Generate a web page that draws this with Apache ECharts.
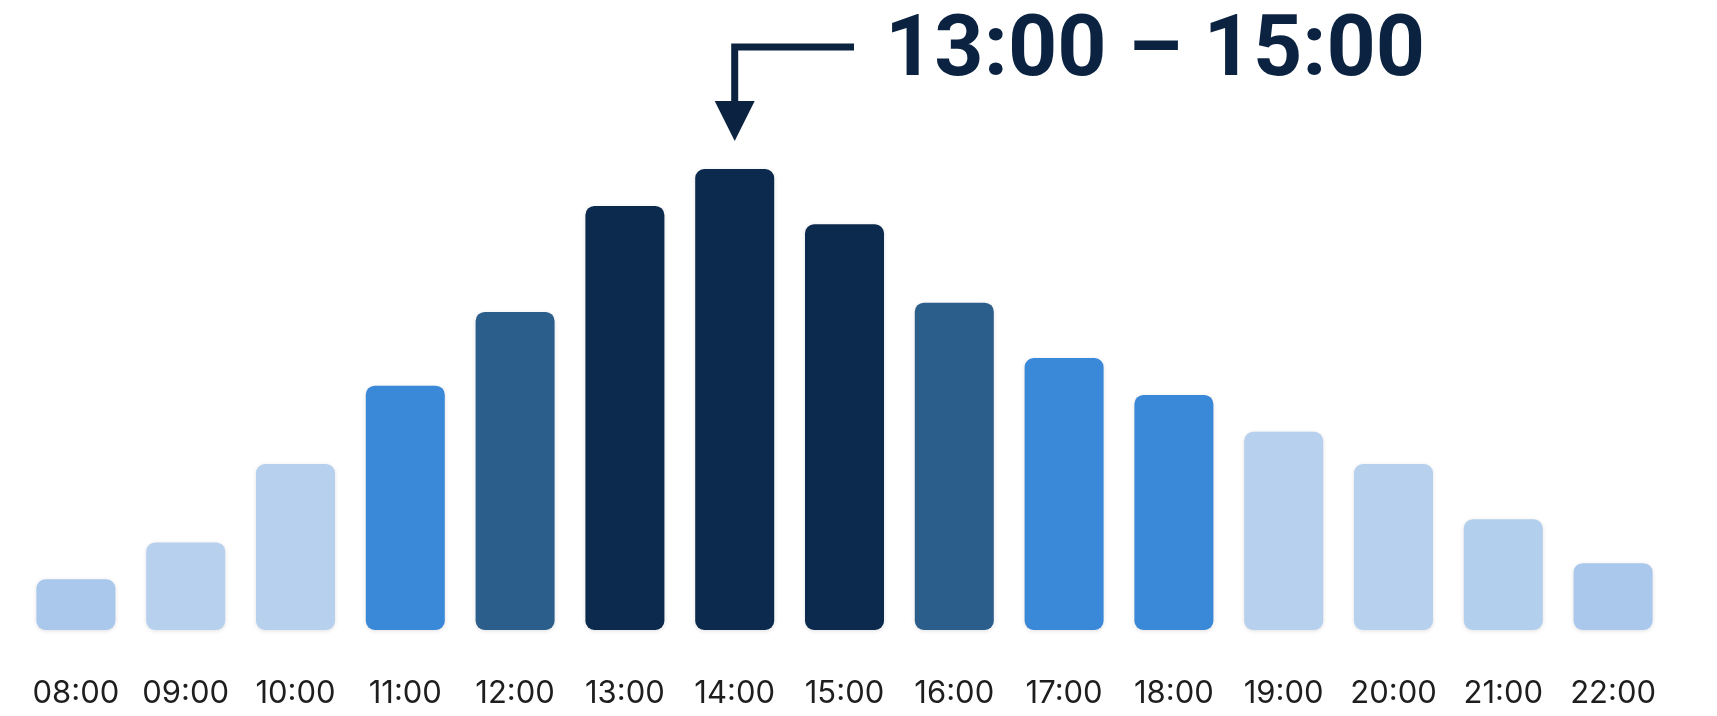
<!DOCTYPE html>
<html>
<head>
<meta charset="utf-8">
<script src="https://cdn.jsdelivr.net/npm/echarts@6/dist/echarts.min.js"></script>
<style>
  html, body { margin: 0; background: #fff; }
  #main { width: 1717px; height: 716px; }
</style>
</head>
<body>
<div id="main"></div>
<script>
var hours = ['08:00', '09:00', '10:00', '11:00', '12:00', '13:00', '14:00', '15:00',
  '16:00', '17:00', '18:00', '19:00', '20:00', '21:00', '22:00'];
var values = [11, 19, 36, 53, 69, 92, 100, 88, 71, 59, 51, 43, 36, 24, 14.5];
var barColors = ['#aac8ec', '#b6d0ee', '#b6d0ee', '#3a88d8', '#2c5e8b', '#0c2a4e', '#0c2a4e', '#0c2a4e',
  '#2c5e8b', '#3a88d8', '#3a88d8', '#b6d0ee', '#b6d0ee', '#b3cfee', '#aac8ec'];
var peakLabel = '13:00 – 15:00';
var peakHour = '14:00';

var chart = echarts.init(document.getElementById('main'));

var option = {
  backgroundColor: '#fff',
  animation: false,
  title: {
    text: peakLabel,
    left: 880,
    top: 0,
    textStyle: {
      fontFamily: 'Roboto',
      fontWeight: 'bold',
      fontSize: 86,
      lineHeight: 96,
      color: '#0b2341'
    }
  },
  grid: { left: 21, right: 49, top: 169, bottom: 86 },
  xAxis: {
    type: 'category',
    data: hours,
    axisLine: { show: false },
    axisTick: { show: false },
    axisLabel: {
      interval: 0,
      hideOverlap: false,
      margin: 48,
      fontFamily: 'Inter',
      fontSize: 31,
      color: '#1e1e1e'
    }
  },
  yAxis: {
    type: 'value',
    min: 0,
    max: 100,
    show: false,
    splitLine: { show: false }
  },
  series: [{
    type: 'bar',
    barWidth: 79,
    data: values.map(function (v, i) {
      return { value: v, itemStyle: { color: barColors[i] } };
    }),
    itemStyle: {
      borderRadius: 9,
      shadowBlur: 4,
      shadowOffsetY: 1,
      shadowColor: 'rgba(0,0,0,0.12)'
    }
  }]
};
chart.setOption(option);

// 箭头指向峰值柱子
var peakIdx = hours.indexOf(peakHour);
var p = chart.convertToPixel({ seriesIndex: 0 }, [peakIdx, values[peakIdx]]);
var lineY = 47;
var tipY = p[1] - 28;
var headH = 40;
chart.setOption({
  graphic: [{
    type: 'polyline',
    shape: { points: [[854, lineY], [p[0], lineY], [p[0], tipY - headH + 2]] },
    style: { stroke: '#0b2341', lineWidth: 7, fill: null }
  }, {
    type: 'polygon',
    shape: { points: [[p[0] - 20, tipY - headH], [p[0] + 20, tipY - headH], [p[0], tipY]] },
    style: { fill: '#0b2341' }
  }]
});
</script>
</body>
</html>
